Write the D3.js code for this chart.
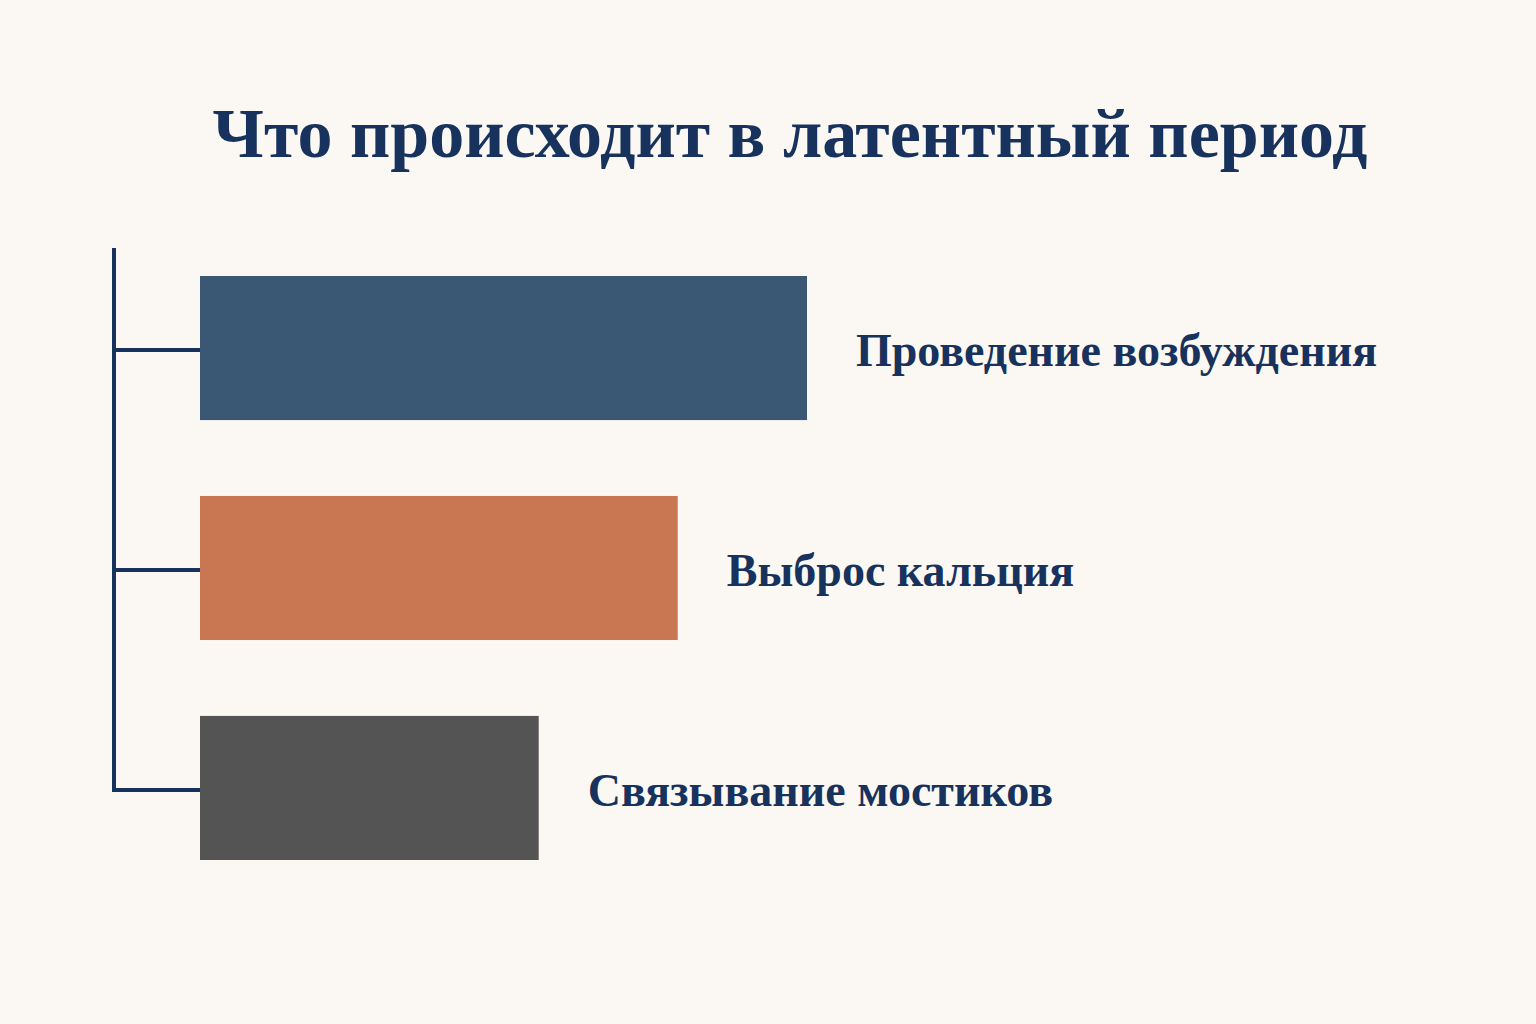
<!DOCTYPE html>
<html><head><meta charset="utf-8">
<script src="https://cdn.jsdelivr.net/npm/d3@7"></script>
<style>body{margin:0;background:#fbf8f3}</style></head>
<body><svg id="c" width="1536" height="1024"></svg>
<script>
const title = "Что происходит в латентный период";
const categories = ["Проведение возбуждения", "Выброс кальция", "Связывание мостиков"];
const values = [100, 78.7, 55.8];
const colors = ["#3a5874", "#c97753", "#545454"];

const svg = d3.select("#c");
svg.append("rect").attr("width",1536).attr("height",1024).attr("fill","#fbf8f3");
const x = d3.scaleLinear().domain([0,100]).range([200,807]);
const y = d3.scaleBand().domain(categories).range([276,860]).paddingInner(0.345).paddingOuter(0);
const navy = "#17325c";
svg.append("text").attr("x",790).attr("y",157).attr("text-anchor","middle")
  .attr("font-family","Liberation Serif, DejaVu Serif, serif").attr("font-weight","bold")
  .attr("font-size",70).attr("fill",navy).text(title);
svg.append("line").attr("x1",114).attr("x2",114).attr("y1",248).attr("y2",y(categories[2])+y.bandwidth()/2+4)
  .attr("stroke",navy).attr("stroke-width",4);
categories.forEach((c,i)=>{
  const cy = y(c)+y.bandwidth()/2+2;
  svg.append("line").attr("x1",112).attr("x2",200).attr("y1",cy).attr("y2",cy).attr("stroke",navy).attr("stroke-width",4);
  svg.append("rect").attr("x",x(0)).attr("y",y(c)).attr("width",x(values[i])-x(0)).attr("height",y.bandwidth()).attr("fill",colors[i]);
  svg.append("text").attr("x",x(values[i])+49).attr("y",cy+16)
    .attr("font-family","Liberation Serif, DejaVu Serif, serif").attr("font-weight","bold")
    .attr("font-size",46).attr("fill",navy).text(c);
});
</script></body></html>
